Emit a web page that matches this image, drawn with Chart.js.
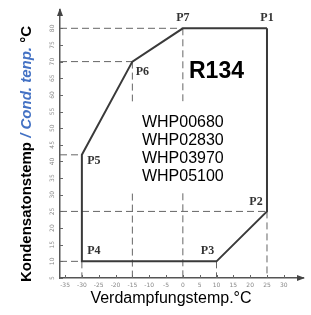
<!DOCTYPE html>
<html>
<head>
<meta charset="utf-8">
<script src="https://cdn.jsdelivr.net/npm/chart.js@4/dist/chart.umd.min.js"></script>
<style>
    html, body { margin: 0; padding: 0; background: #fff; }
    #wrap { width: 311px; height: 315px; }
</style>
</head>
<body>
<div id="wrap"><canvas id="chartJS"></canvas></div>
<script>
// Einsatzgrenzen R134
const pointNames = ['P1', 'P2', 'P3', 'P4', 'P5', 'P6', 'P7'];
const evapTemp = [25, 25, 10, -30, -30, -15, 0];     // Verdampfung °C
const condTemp = [80, 25, 10, 10, 42, 70, 80];       // Kondensation °C
const horizGuides = ['P7', 'P6', 'P5', 'P2', 'P4'];  // gestrichelt zur y-Achse
const vertGuides = ['P6', 'P7', 'P2', 'P3', 'P4'];   // gestrichelt zur x-Achse
const xTickValues = [-35, -30, -25, -20, -15, -10, -5, 0, 5, 10, 15, 20, 25, 30];
const yTickValues = [5, 10, 15, 20, 25, 30, 35, 40, 45, 50, 55, 60, 65, 70, 75, 80];
const refrigerant = 'R134';
const modelNames = ['WHP00680', 'WHP02830', 'WHP03970', 'WHP05100'];

const xMin = -36.5, xMax = 35.7;
const yMin = 5, yMax = 85.5;

// label offsets (px) per point
const labelOffsets = {
    P1: [0, -10], P2: [-11, -10], P3: [-9, -10], P4: [12, -10],
    P5: [12, 6], P6: [10, 10], P7: [0, -10]
};

const outline = pointNames.map((n, i) => ({ x: evapTemp[i], y: condTemp[i] }));
outline.push(outline[0]);

const guideSets = [];
horizGuides.forEach(n => {
    const i = pointNames.indexOf(n);
    guideSets.push([{ x: xMin, y: condTemp[i] }, { x: evapTemp[i], y: condTemp[i] }]);
});
vertGuides.forEach(n => {
    const i = pointNames.indexOf(n);
    guideSets.push([{ x: evapTemp[i], y: condTemp[i] }, { x: evapTemp[i], y: yMin }]);
});

const datasets = [{
    label: 'Grenze',
    data: outline,
    showLine: true,
    borderColor: '#3a3a3a',
    borderWidth: 2,
    pointRadius: 0,
    tension: 0
}];
guideSets.forEach(g => datasets.push({
    label: 'guide',
    data: g,
    showLine: true,
    borderColor: '#666',
    borderWidth: 1,
    borderDash: [7, 4],
    pointRadius: 0
}));

const extras = {
    id: 'extras',
    beforeDatasetDraw(chart, args) {
        if (args.index !== 0) return;
        // weisser Kasten hinter dem Modelltext
        const ctx = chart.ctx;
        const xs = chart.scales.x, ys = chart.scales.y;
        const cx = xs.getPixelForValue(0);
        ctx.save();
        ctx.fillStyle = '#fff';
        ctx.fillRect(cx - 58, ys.getPixelForValue(58), 116, ys.getPixelForValue(31) - ys.getPixelForValue(58));
        ctx.restore();
    },
    afterDraw(chart) {
        const ctx = chart.ctx;
        const xs = chart.scales.x, ys = chart.scales.y;
        const a = chart.chartArea;
        ctx.save();
        // pfeile
        ctx.fillStyle = '#444';
        ctx.beginPath();
        ctx.moveTo(a.left, a.top - 2);
        ctx.lineTo(a.left - 3, a.top + 6);
        ctx.lineTo(a.left + 3, a.top + 6);
        ctx.fill();
        ctx.beginPath();
        ctx.moveTo(a.right + 2, a.bottom);
        ctx.lineTo(a.right - 6, a.bottom - 3);
        ctx.lineTo(a.right - 6, a.bottom + 3);
        ctx.fill();
        // tick marks
        ctx.strokeStyle = '#666';
        ctx.lineWidth = 1;
        xs.ticks.forEach(t => {
            const px = Math.round(xs.getPixelForValue(t.value)) + 0.5;
            ctx.beginPath(); ctx.moveTo(px, a.bottom); ctx.lineTo(px, a.bottom - 3); ctx.stroke();
        });
        ys.ticks.forEach(t => {
            const py = Math.round(ys.getPixelForValue(t.value)) + 0.5;
            ctx.beginPath(); ctx.moveTo(a.left, py); ctx.lineTo(a.left + 3, py); ctx.stroke();
        });
        // y tick labels, gedreht
        ctx.fillStyle = '#888';
        ctx.font = '6px "DejaVu Sans"';
        ctx.textAlign = 'center';
        ctx.textBaseline = 'middle';
        ys.ticks.forEach(t => {
            ctx.save();
            ctx.translate(a.left - 8, ys.getPixelForValue(t.value));
            ctx.rotate(-Math.PI / 2);
            ctx.fillText(String(t.value), 0, 0);
            ctx.restore();
        });
        // punkt-beschriftung
        ctx.fillStyle = '#333';
        ctx.font = 'bold 12px "Liberation Serif"';
        pointNames.forEach((n, i) => {
            const o = labelOffsets[n];
            ctx.fillText(n, xs.getPixelForValue(evapTemp[i]) + o[0], ys.getPixelForValue(condTemp[i]) + o[1]);
        });
        // R134
        ctx.fillStyle = '#000';
        ctx.font = 'bold 23px "Liberation Sans"';
        ctx.textBaseline = 'alphabetic';
        ctx.fillText(refrigerant, xs.getPixelForValue(10), ys.getPixelForValue(65));
        // modelle
        ctx.font = '16px "Liberation Sans"';
        modelNames.forEach((m, i) => {
            ctx.fillText(m, xs.getPixelForValue(0), ys.getPixelForValue(50.3) + i * 18);
        });
        // achsentitel x
        ctx.font = '16px "Liberation Sans"';
        ctx.fillText('Verdampfungstemp.°C', 171, 303);
        // achsentitel y (mehrfarbig)
        const parts = [
            ['Kondensatonstemp ', 'bold 15px "Liberation Sans"', '#000'],
            ['/ Cond. tenp.', 'italic bold 15px "Liberation Sans"', '#4472C4'],
            [' °C', 'bold 15px "Liberation Sans"', '#000']
        ];
        let total = 0;
        parts.forEach(p => { ctx.font = p[1]; total += ctx.measureText(p[0]).width; });
        ctx.translate(27, 154);
        ctx.rotate(-Math.PI / 2);
        ctx.textAlign = 'left';
        ctx.textBaseline = 'middle';
        let pos = -total / 2;
        parts.forEach(p => {
            ctx.font = p[1];
            ctx.fillStyle = p[2];
            ctx.fillText(p[0], pos, 0);
            pos += ctx.measureText(p[0]).width;
        });
        ctx.restore();
    }
};

const config = {
    type: 'scatter',
    data: { datasets: datasets },
    options: {
        responsive: true,
        maintainAspectRatio: false,
        animation: false,
        layout: { padding: { top: 10, right: 8, left: 0, bottom: 0 } },
        plugins: { legend: { display: false }, tooltip: { enabled: false } },
        scales: {
            x: {
                type: 'linear',
                min: xMin, max: xMax,
                afterBuildTicks: s => { s.ticks = xTickValues.map(v => ({ value: v })); },
                afterFit: s => { s.height = 37; },
                grid: { display: false, drawTicks: false },
                border: { display: true, color: '#555', width: 1.5 },
                ticks: { padding: 4, maxRotation: 0, autoSkip: false,
                    color: '#888', font: { size: 6, family: 'DejaVu Sans' } }
            },
            y: {
                type: 'linear',
                min: yMin, max: yMax,
                afterBuildTicks: s => { s.ticks = yTickValues.map(v => ({ value: v })); },
                afterFit: s => { s.width = 60; },
                grid: { display: false, drawTicks: false },
                border: { display: true, color: '#555', width: 1.5 },
                ticks: { display: false }
            }
        }
    },
    plugins: [extras]
};

const myChart = new Chart(document.getElementById('chartJS'), config);
</script>
</body>
</html>
